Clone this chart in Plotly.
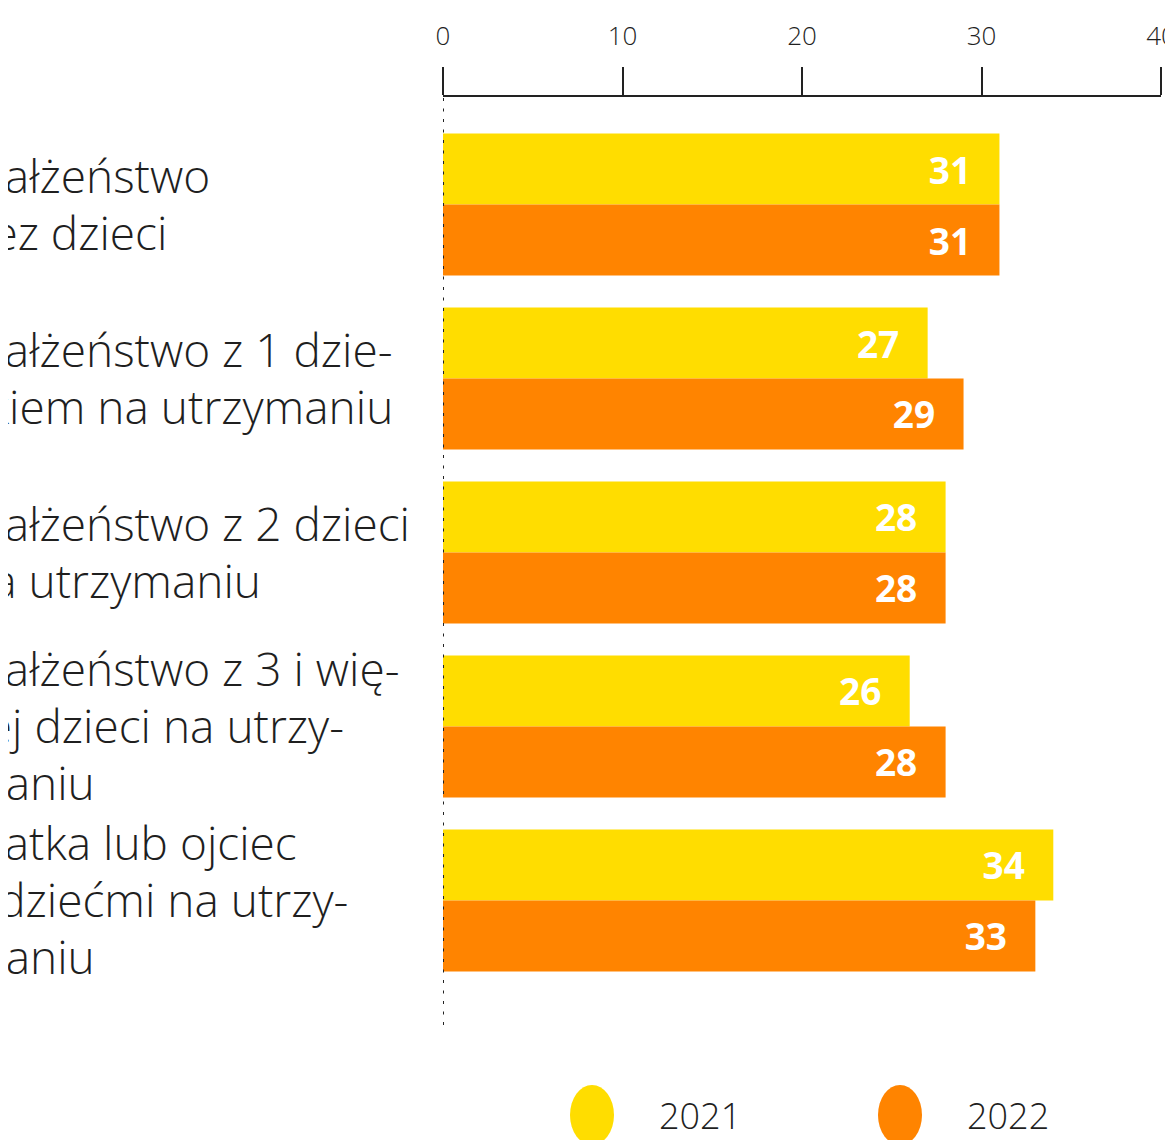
import plotly.graph_objects as go

categories = [
    "Małżeństwo bez dzieci",
    "Małżeństwo z 1 dzieckiem na utrzymaniu",
    "Małżeństwo z 2 dzieci na utrzymaniu",
    "Małżeństwo z 3 i więcej dzieci na utrzymaniu",
    "Matka lub ojciec z dziećmi na utrzymaniu",
]
label_lines = [
    ["Małżeństwo", "bez dzieci"],
    ["Małżeństwo z 1 dzie-", "ckiem na utrzymaniu"],
    ["Małżeństwo z 2 dzieci", "na utrzymaniu"],
    ["Małżeństwo z 3 i wię-", "cej dzieci na utrzy-", "maniu"],
    ["Matka lub ojciec", "z dziećmi na utrzy-", "maniu"],
]
values_2021 = [31, 27, 28, 26, 34]
values_2022 = [31, 29, 28, 28, 33]
series_names = ["2021", "2022"]
tick_vals = [0, 10, 20, 30, 40]

YELLOW = "#FFDD00"
ORANGE = "#FF8400"
TEXT = "#1f1f1f"
FONT = "Open Sans"

# page has an 8px body margin, so the figure is offset by 8px
OFF = 8
W, H = 1173 - OFF, 1140 - OFF
ML, MR, MT, MB = 443 - OFF, 12, 97 - OFF, 115
pw = W - ML - MR
ph = H - MT - MB
plot_bottom_px = 1025  # in page pixels
LINE_H = 57

fig = go.Figure()
for name, vals, col in [(series_names[0], values_2021, YELLOW), (series_names[1], values_2022, ORANGE)]:
    fig.add_trace(go.Bar(
        x=vals, y=categories, orientation="h", name=name,
        marker=dict(color=col, line=dict(width=0)),
        texttemplate="%{x}\u00a0\u00a0\u2009", textposition="inside",
        insidetextanchor="end",
        textfont=dict(family=FONT, size=37, color="white", weight=700),
        showlegend=False, hoverinfo="skip",
    ))

# category labels (left aligned, partially cut off at the page edge)
for cat, lines in zip(categories, label_lines):
    n = len(lines)
    for i, line in enumerate(lines):
        fig.add_annotation(
            x=(-37 - 443) / pw, xref="paper", xanchor="left",
            y=cat, yref="y", yanchor="middle",
            yshift=((n - 1) / 2 - i) * LINE_H + 1,
            text=line, align="left", showarrow=False,
            font=dict(family=FONT, size=46, color=TEXT, weight=300),
        )

# dotted zero reference line
fig.add_shape(type="line", xref="x", yref="paper", x0=0, x1=0, y0=0, y1=1,
              line=dict(color="#222222", width=2, dash="3px,7.5px"))

# manual legend
leg_y = -(1115 - plot_bottom_px) / ph
for name, col, cx, tx in [(series_names[0], YELLOW, 592, 657), (series_names[1], ORANGE, 900, 965)]:
    fig.add_shape(type="circle", xref="paper", yref="paper",
                  xsizemode="pixel", ysizemode="pixel",
                  xanchor=(cx - 443) / pw, yanchor=leg_y,
                  x0=-22, x1=22, y0=-30, y1=30,
                  fillcolor=col, line=dict(width=0))
    fig.add_annotation(x=(tx - 443) / pw, xref="paper", xanchor="left",
                       y=leg_y, yref="paper", yanchor="middle",
                       text=name, showarrow=False,
                       font=dict(family=FONT, size=36, color=TEXT, weight=300))

fig.update_layout(
    width=W, height=H,
    margin=dict(l=ML, r=MR, t=MT, b=MB, pad=0, autoexpand=False),
    paper_bgcolor="white", plot_bgcolor="white",
    barmode="group", bargap=32 / 174, bargroupgap=0,
    xaxis=dict(
        side="top", range=[0, 40], tickvals=tick_vals, automargin=False,
        showgrid=False, zeroline=False,
        showline=True, linecolor="#222222", linewidth=2,
        ticks="outside", ticklen=28, tickwidth=2, tickcolor="#222222",
        tickfont=dict(family=FONT, size=26, color=TEXT, weight=300),
        ticklabelstandoff=12, ticklabeloverflow="allow",
    ),
    yaxis=dict(
        type="category", categoryarray=categories, automargin=False,
        range=[4.716, -0.618],
        showticklabels=False, showgrid=False, zeroline=False, showline=False, ticks="",
    ),
)

fig.write_html("out.html")
